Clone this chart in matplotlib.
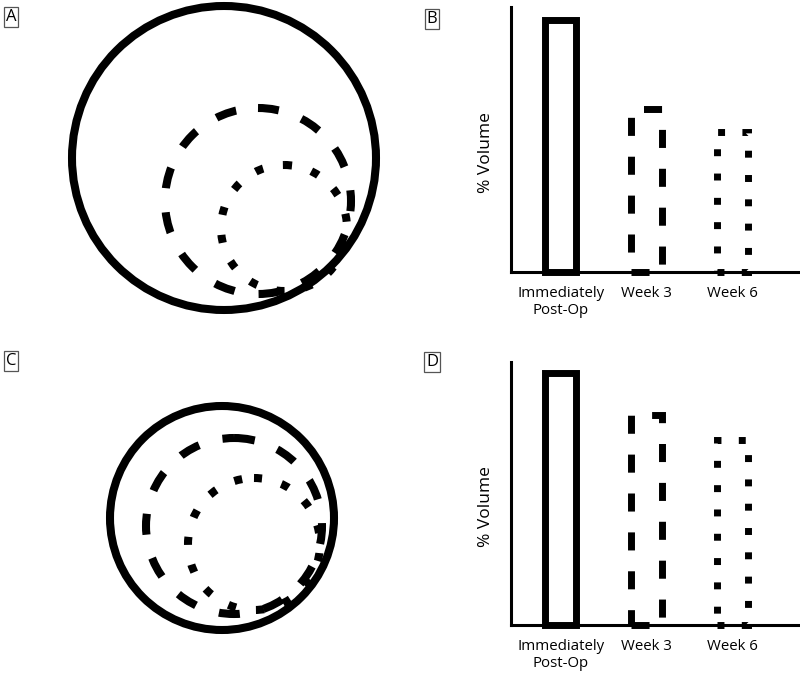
import matplotlib.pyplot as plt
from matplotlib.patches import Circle

# circle panels: centre x, centre y, radius (pixel units of each panel)
circ_names = ["outer", "week3", "week6"]
circ_a_x = [224, 258, 284]
circ_a_y = [158, 201, 228]
circ_a_r = [152, 93, 63]
circ_c_x = [222, 234, 254]
circ_c_y = [181, 189, 207]
circ_c_r = [112, 88, 66]

# bar panels
categories = ["Immediately\nPost-Op", "Week 3", "Week 6"]
vol_b = [99, 64, 55]
vol_d = [99.5, 83, 73]

styles = ["solid", (0, (2.6, 3.0)), (0, (1.0, 2.5))]

W, H = 800, 674
fig = plt.figure(figsize=(W / 100, H / 100), dpi=100)
plt.rcParams['font.family'] = ['Open Sans', 'DejaVu Sans']


def fax(x0, y0, x1, y1):
    # axes from pixel box (top-left origin)
    return fig.add_axes([x0 / W, 1 - y1 / H, (x1 - x0) / W, (y1 - y0) / H])


def circles(ax, xs, ys, rs):
    for x, y, r, ls in zip(xs, ys, rs, styles):
        ax.add_patch(Circle((x, y), r, fill=False, lw=5.8, ls=ls,
                            edgecolor='black', capstyle='butt'))
    ax.set_xlim(0, 400)
    ax.set_ylim(337, 0)
    ax.set_aspect('equal')
    ax.axis('off')


def bars(ax, vals):
    for i, (v, ls) in enumerate(zip(vals, styles)):
        ax.bar(i, v, width=0.36, fill=False, edgecolor='black', lw=5.0,
               ls=ls, clip_on=False)
    ax.set_xlim(-0.58, 2.78)
    ax.set_ylim(0, 104)
    ax.spines[['top', 'right']].set_visible(False)
    ax.spines[['left', 'bottom']].set_linewidth(2.2)
    ax.set_yticks([])
    ax.set_xticks(range(len(categories)), categories)
    ax.tick_params(axis='x', length=0, pad=10, labelsize=10.8)
    ax.set_ylabel("% Volume", fontsize=12.5)
    ax.yaxis.set_label_coords(-0.058, 0.45)


ax_a = fax(0, 0, 400, 337)
circles(ax_a, circ_a_x, circ_a_y, circ_a_r)
ax_c = fax(0, 337, 400, 674)
circles(ax_c, circ_c_x, circ_c_y, circ_c_r)

ax_b = fax(511, 7, 800, 272)
bars(ax_b, vol_b)
ax_d = fax(511, 362, 800, 625)
bars(ax_d, vol_d)

for lab, x, y in [("A", 11, 17), ("B", 432, 19), ("C", 11, 361), ("D", 432, 362)]:
    fig.text(x / W, 1 - y / H, lab, ha='center', va='center', fontsize=12,
             bbox=dict(boxstyle='square,pad=0.12', fc='white', ec='#555555', lw=0.9))

fig.savefig("out.png", dpi=100)
